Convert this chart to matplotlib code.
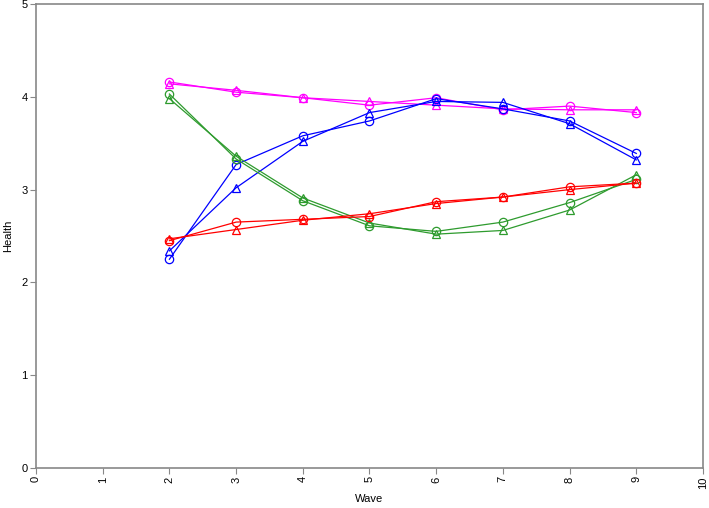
import matplotlib
matplotlib.use("Agg")
import matplotlib.pyplot as plt

plt.rcParams['font.family'] = ['Liberation Sans', 'DejaVu Sans']

waves = [2, 3, 4, 5, 6, 7, 8, 9]

# circle series
magenta_c = [4.16, 4.05, 3.99, 3.91, 3.99, 3.86, 3.90, 3.83]
blue_c = [2.25, 3.27, 3.58, 3.74, 3.98, 3.87, 3.74, 3.39]
green_c = [4.03, 3.33, 2.88, 2.61, 2.55, 2.65, 2.86, 3.11]
red_c = [2.45, 2.65, 2.68, 2.71, 2.87, 2.92, 3.03, 3.07]

# triangle series
magenta_t = [4.14, 4.07, 3.99, 3.95, 3.91, 3.87, 3.86, 3.86]
blue_t = [2.34, 3.02, 3.52, 3.83, 3.95, 3.94, 3.71, 3.32]
green_t = [3.98, 3.36, 2.91, 2.64, 2.52, 2.56, 2.78, 3.16]
red_t = [2.47, 2.57, 2.67, 2.74, 2.85, 2.92, 3.00, 3.07]

colors = {'magenta': '#FF00FF', 'blue': '#0000FF', 'green': '#2E9B2E', 'red': '#FF0000'}

fig = plt.figure(figsize=(7.09, 5.08), dpi=100)
ax = fig.add_axes([0.0508, 0.0787, 0.9407, 0.9134])

series = [
    (magenta_c, magenta_t, colors['magenta']),
    (blue_c, blue_t, colors['blue']),
    (green_c, green_t, colors['green']),
    (red_c, red_t, colors['red']),
]
for circ, tri, col in series:
    ax.plot(waves, circ, color=col, lw=0.9, marker='o', ms=6,
            mfc='none', mec=col, mew=0.9)
    ax.plot(waves, tri, color=col, lw=0.9, marker='^', ms=6,
            mfc='none', mec=col, mew=0.9)

ax.set_xlim(0, 10)
ax.set_ylim(0, 5)
ax.set_xticks(range(0, 11))
ax.set_yticks(range(0, 6))
ax.tick_params(axis='x', labelrotation=90, labelsize=8, length=4, width=0.8, color='#888888', pad=2)
ax.tick_params(axis='y', labelsize=8, length=4, width=0.8, color='#888888', pad=2)
for s in ax.spines.values():
    s.set_color('#888888')
    s.set_linewidth(1.2)

ax.set_xlabel('Wave', fontsize=8, labelpad=4)
ax.set_ylabel('Health', fontsize=8, labelpad=6)

plt.savefig('out.png', dpi=100)
plt.close()
